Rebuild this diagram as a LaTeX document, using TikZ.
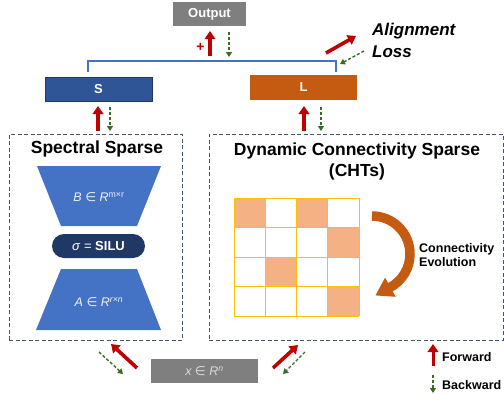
\documentclass[tikz,border=0pt]{standalone}
\usepackage{fontspec}
\setmainfont{Liberation Sans}
\newfontfamily\dejavu{DejaVu Sans}
\usetikzlibrary{arrows.meta}
\definecolor{outgray}{HTML}{7F7F7F}
\definecolor{sblue}{HTML}{2F5597}
\definecolor{sborder}{HTML}{203864}
\definecolor{lorange}{HTML}{C55A11}
\definecolor{trapblue}{HTML}{4472C4}
\definecolor{navy}{HTML}{1F3864}
\definecolor{gold}{HTML}{FFC000}
\definecolor{cellfill}{HTML}{F4B183}
\definecolor{dboxc}{HTML}{44546A}
\definecolor{fwdred}{HTML}{C00000}
\definecolor{bwdgreen}{HTML}{3A6B22}
\newcommand{\el}{{\dejavu\itshape ∈}}
\begin{document}
\begin{tikzpicture}[x=1pt,y=-1pt,
  graybox/.style={fill=outgray, text=white, font=\fontsize{13}{15}\selectfont\bfseries, inner sep=0},
  blockbox/.style={minimum width=107, minimum height=24, text=white, font=\fontsize{13}{15}\selectfont\bfseries, inner sep=0},
  dbox/.style={draw=dboxc, dash pattern=on 4pt off 2.5pt, line width=0.8pt, inner sep=0},
  fwd/.style={draw=fwdred, line width=3.6pt, -{Triangle[length=8pt,width=10.5pt]}},
  bwd/.style={draw=bwdgreen, line width=1.4pt, dash pattern=on 3pt off 2pt, -{Triangle[length=5pt,width=6pt]}},
  title/.style={font=\fontsize{17.5}{21}\selectfont\bfseries, align=center},
  mathtxt/.style={text=white!95!black, font=\fontsize{12.5}{15}\selectfont\itshape},
  lbl/.style={font=\fontsize{12.5}{14}\selectfont\bfseries, anchor=west, align=left, inner sep=0}
]
\useasboundingbox (0,0) rectangle (504,394);

% top blocks
\node[graybox, minimum width=73, minimum height=24] (out) at (209.5,14) {Output};
\node[blockbox, fill=sblue, draw=sborder, line width=0.6pt] (S) at (98.5,89) {S};
\node[blockbox, fill=lorange, minimum height=25] (L) at (303.5,87.5) {L};

% bracket
\coordinate (bl) at (88,72); \coordinate (bl2) at (88,61);
\coordinate (br) at (336,72); \coordinate (br2) at (336,61);
\draw[trapblue, line width=1.2pt] (bl) -- (bl2) -- (br2) -- (br);

% output arrows
\coordinate (o1) at (210,56); \coordinate (o2) at (210,31);
\coordinate (o3) at (229,32); \coordinate (o4) at (229,57);
\draw[fwd] (o1) -- (o2);
\draw[bwd] (o3) -- (o4);
\node[text=fwdred, font=\fontsize{14}{16}\selectfont\bfseries, inner sep=0] (plus) at (200.5,47.5) {+};

% alignment loss
\coordinate (a1) at (326,53); \coordinate (a2) at (356,36);
\coordinate (a3) at (364,51); \coordinate (a4) at (340,64);
\draw[fwd] (a1) -- (a2);
\draw[bwd] (a3) -- (a4);
\node[font=\fontsize{17}{22}\selectfont\bfseries\itshape, anchor=west, align=left, inner sep=0] (align) at (372,40) {Alignment\\Loss};

% dashed boxes
\node[dbox, minimum width=173, minimum height=206] (spec) at (95.5,237) {};
\node[dbox, minimum width=294, minimum height=206] (dyn) at (356,237) {};

% S / L arrows
\coordinate (s1) at (98,131); \coordinate (s2) at (98,106);
\coordinate (s3) at (110,107); \coordinate (s4) at (110,131);
\draw[fwd] (s1) -- (s2);
\draw[bwd] (s3) -- (s4);
\coordinate (l1) at (304,131); \coordinate (l2) at (304,106);
\coordinate (l3) at (321,107); \coordinate (l4) at (321,131);
\draw[fwd] (l1) -- (l2);
\draw[bwd] (l3) -- (l4);

% spectral sparse
\node[title] (spect) at (97,149) {Spectral Sparse};
\fill[trapblue] (37,166) -- (161,166) -- (137,226) -- (61,226) -- cycle;
\node[mathtxt] (Bt) at (99,197) {B \el{} R\textsuperscript{\upshape m×r}};
\node[fill=navy, rounded corners=12pt, minimum width=93, minimum height=24, inner sep=0, text=white, font=\fontsize{13}{15}\selectfont] (sig) at (98.5,246) {\textit{σ} = \textbf{SILU}};
\fill[trapblue] (61,269) -- (137,269) -- (161,330) -- (36,330) -- cycle;
\node[mathtxt] (At) at (99,302) {A \el{} R\textsuperscript{r×n}};

% dynamic sparse
\node[title] (dynt) at (357,161) {Dynamic Connectivity Sparse\\(CHTs)};
\foreach \c/\r in {0/0,2/0,3/1,1/2,3/3}{
  \fill[cellfill] ({234+\c*31.25},{198+\r*29.5}) rectangle ++(31.25,29.5);
}
\foreach \i in {0,...,4}{
  \draw[gold, line width=1pt] ({234+\i*31.25},198) -- ({234+\i*31.25},316);
  \draw[gold, line width=1pt] (234,{198+\i*29.5}) -- (359,{198+\i*29.5});
}
\draw[lorange, line width=9.5pt] (372,216) arc[start angle=-90, end angle=62, radius=38];
\fill[lorange] (375.5,295.4) -- (395.7,296.8) -- (385.1,277.6) -- cycle;
\node[lbl] (conn) at (419,255) {Connectivity\\Evolution};

% input
\node[graybox, minimum width=107, minimum height=24, text=white!85!black, font=\fontsize{12.5}{15}\selectfont\itshape] (x) at (204.5,371) {x \el{} R\textsuperscript{n}};
\coordinate (x1) at (137,368); \coordinate (x2) at (111,344);
\coordinate (x3) at (99,352); \coordinate (x4) at (123,374);
\draw[fwd] (x1) -- (x2);
\draw[bwd] (x3) -- (x4);
\coordinate (y1) at (273,368); \coordinate (y2) at (298,345);
\coordinate (y3) at (305,352); \coordinate (y4) at (283,374);
\draw[fwd] (y1) -- (y2);
\draw[bwd] (y3) -- (y4);

% legend
\coordinate (f1) at (433,366); \coordinate (f2) at (433,344);
\draw[fwd, line width=3pt] (f1) -- (f2);
\node[lbl] (fw) at (442,357) {Forward};
\coordinate (b1) at (433,375); \coordinate (b2) at (433,393);
\draw[bwd] (b1) -- (b2);
\node[lbl] (bw) at (442,385) {Backward};
\end{tikzpicture}
\end{document}
